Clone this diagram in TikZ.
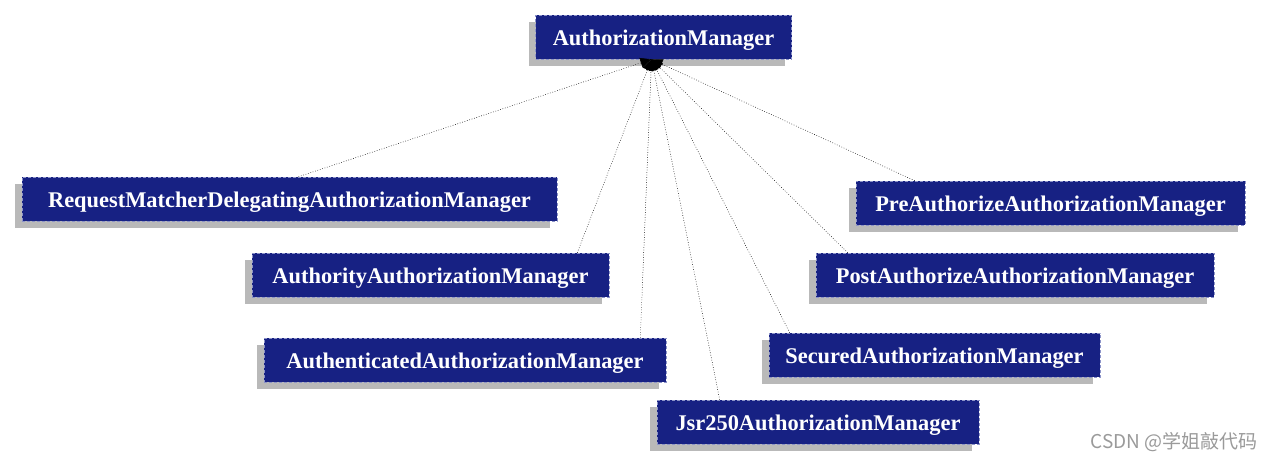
\documentclass[tikz,border=0pt]{standalone}
\usepackage{fontspec}
\setmainfont{Liberation Serif}
\newfontfamily\cjkfont{Noto Sans CJK SC}
\usepackage{tikz}
\usetikzlibrary{arrows.meta,shadows}
\definecolor{cBox}{HTML}{172183}
\definecolor{cEdge}{HTML}{8C93C8}
\definecolor{cShade}{HTML}{B9B9B9}
\definecolor{cMark}{HTML}{9A9A9A}
\tikzset{
  cls/.style={rectangle,fill=cBox,draw=cEdge,line width=.6pt,dash pattern=on 3pt off 2pt,
    text=white,font=\fontsize{22.4}{26}\selectfont\bfseries,inner sep=0pt,minimum height=44pt,
    text height=18pt,text depth=1.6pt,
    drop shadow={shadow xshift=-7pt,shadow yshift=-7pt,fill=cShade,opacity=1}},
  impl/.style={-{Triangle[length=11pt,width=10pt]},black,line width=.5pt,dash pattern=on .7pt off 1.8pt},
  wmark/.style={font=\cjkfont\fontsize{19}{21}\selectfont,text=cMark,inner sep=0pt},
}
\begin{document}
\begin{tikzpicture}[x=1pt,y=-1pt]
  \useasboundingbox[fill=white] (0,0) rectangle (1273,461);
  % interface and its implementations
  \node[cls,minimum width=256pt] (am) at (663.5,37) {AuthorizationManager};
  \node[cls,minimum width=535pt] (rm) at (289.5,199) {RequestMatcherDelegatingAuthorizationManager};
  \node[cls,minimum width=389pt] (pre) at (1050.5,203) {PreAuthorizeAuthorizationManager};
  \node[cls,minimum width=357pt] (auth) at (430.5,275) {AuthorityAuthorizationManager};
  \node[cls,minimum width=398pt] (post) at (1015,275) {PostAuthorizeAuthorizationManager};
  \node[cls,minimum width=402pt] (authn) at (465,360) {AuthenticatedAuthorizationManager};
  \node[cls,minimum width=331pt] (sec) at (934.5,355) {SecuredAuthorizationManager};
  \node[cls,minimum width=322pt] (jsr) at (818,422) {Jsr250AuthorizationManager};
  \coordinate (amtip) at ([xshift=-12pt]am.south);
  \draw[impl] ([xshift=9pt]rm.north) -- (amtip);
  \draw[impl] ([xshift=-32pt]auth.north east) -- (amtip);
  \draw[impl] ([xshift=-26pt]authn.north east) -- (amtip);
  \draw[impl] ([xshift=63pt]jsr.north west) -- (amtip);
  \draw[impl] ([xshift=21pt]sec.north west) -- (amtip);
  \draw[impl] ([xshift=32pt]post.north west) -- (amtip);
  \draw[impl] ([xshift=59pt]pre.north west) -- (amtip);
  \node[wmark,anchor=east] (wm) at (1258,442) {CSDN @学姐敲代码};
\end{tikzpicture}
\end{document}
